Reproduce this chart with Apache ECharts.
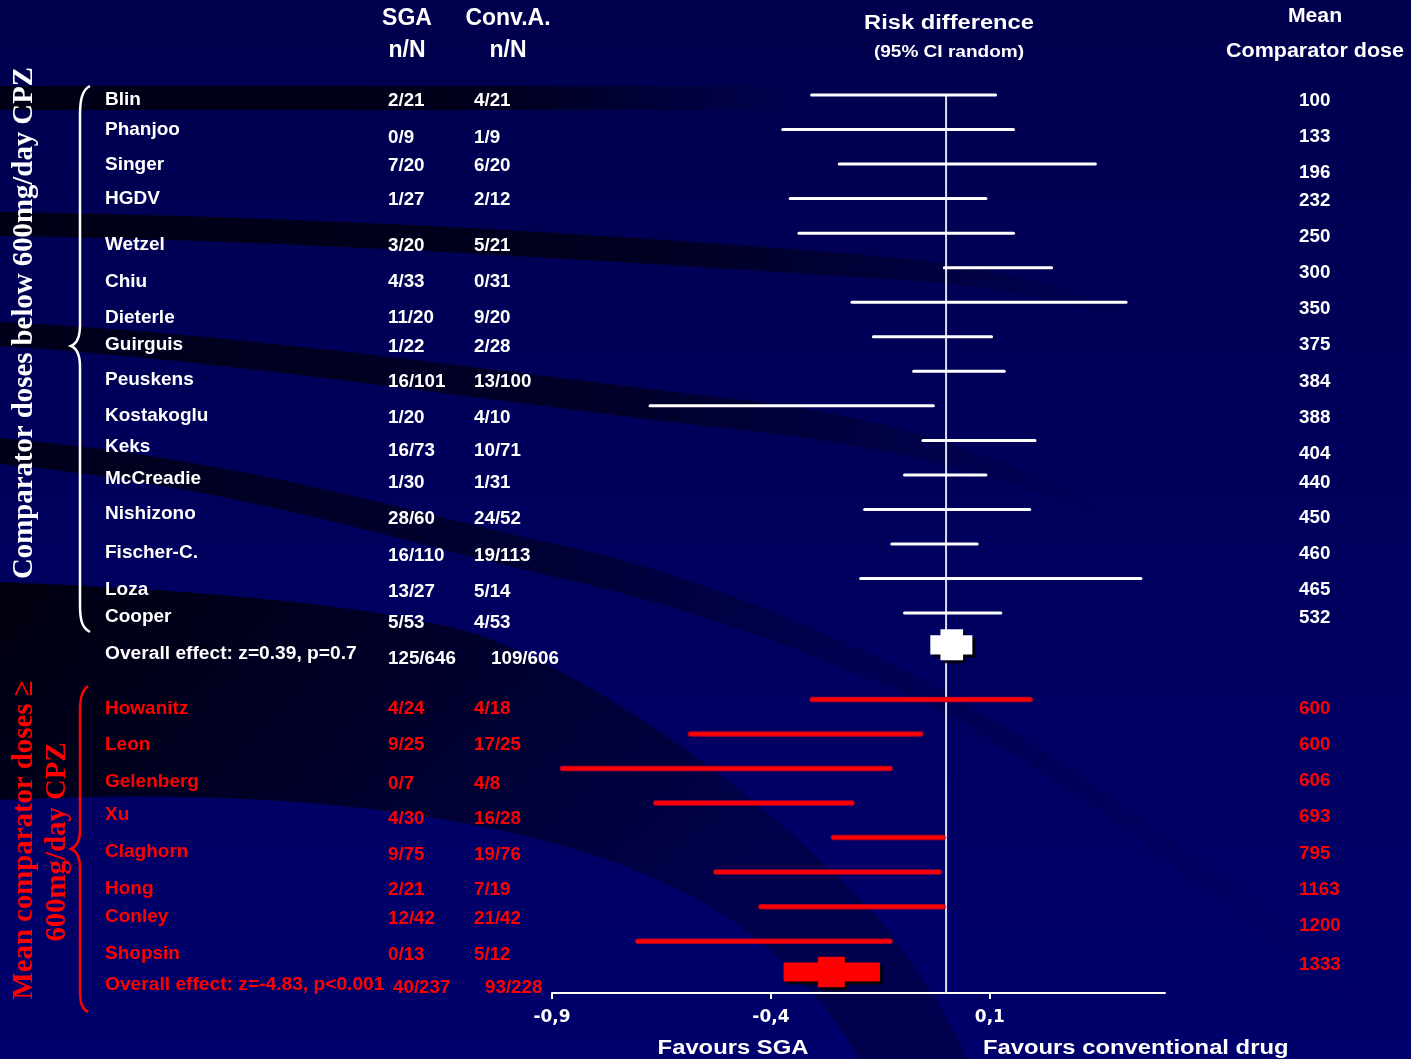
<!DOCTYPE html>
<html>
<head>
<meta charset="utf-8">
<title>Risk difference forest plot</title>
<script src="https://cdn.jsdelivr.net/npm/echarts@6.0.0/dist/echarts.min.js"></script>
<style>
html, body { margin: 0; padding: 0; background: #00005a; }
#chart { width: 1411px; height: 1059px; }
</style>
</head>
<body>
<div id="chart"></div>
<script>
// ---- Studies with mean comparator dose below 600 mg/day CPZ ----
const lowStudies = ['Blin', 'Phanjoo', 'Singer', 'HGDV', 'Wetzel', 'Chiu', 'Dieterle', 'Guirguis',
  'Peuskens', 'Kostakoglu', 'Keks', 'McCreadie', 'Nishizono', 'Fischer-C.', 'Loza', 'Cooper'];
const lowSGA = ['2/21', '0/9', '7/20', '1/27', '3/20', '4/33', '11/20', '1/22',
  '16/101', '1/20', '16/73', '1/30', '28/60', '16/110', '13/27', '5/53'];
const lowConv = ['4/21', '1/9', '6/20', '2/12', '5/21', '0/31', '9/20', '2/28',
  '13/100', '4/10', '10/71', '1/31', '24/52', '19/113', '5/14', '4/53'];
const lowDose = [100, 133, 196, 232, 250, 300, 350, 375, 384, 388, 404, 440, 450, 460, 465, 532];
const lowLower = [-0.307, -0.373, -0.244, -0.356, -0.336, -0.004, -0.215, -0.166,
  -0.074, -0.676, -0.053, -0.095, -0.186, -0.124, -0.195, -0.095];
const lowUpper = [0.113, 0.154, 0.341, 0.091, 0.154, 0.241, 0.411, 0.104,
  0.133, -0.029, 0.203, 0.091, 0.191, 0.071, 0.445, 0.125];
const lowRows = [0, 1, 2, 3, 4, 5, 6, 7, 8, 9, 10, 11, 12, 13, 14, 15];

// ---- Studies with mean comparator dose of 600 mg/day CPZ or more ----
const highStudies = ['Howanitz', 'Leon', 'Gelenberg', 'Xu', 'Claghorn', 'Hong', 'Conley', 'Shopsin'];
const highSGA = ['4/24', '9/25', '0/7', '4/30', '9/75', '2/21', '12/42', '0/13'];
const highConv = ['4/18', '17/25', '4/8', '16/28', '19/76', '7/19', '21/42', '5/12'];
const highDose = [600, 600, 606, 693, 795, 1163, 1200, 1333];
const highLower = [-0.306, -0.584, -0.876, -0.663, -0.257, -0.526, -0.423, -0.704];
const highUpper = [0.192, -0.058, -0.128, -0.215, -0.007, -0.016, -0.007, -0.128];
const highRows = [17.5, 18.5, 19.5, 20.5, 21.5, 22.5, 23.5, 24.5];

// ---- Pooled (random effects) results: [below 600, 600 and above] ----
const overallLabels = ['Overall effect: z=0.39, p=0.7', 'Overall effect: z=-4.83, p<0.001'];
const overallSGA = ['125/646', '40/237'];
const overallConv = ['109/606', '93/228'];
const overallEst = [0.013, -0.262];
const overallLower = [-0.036, -0.371];
const overallUpper = [0.060, -0.151];
const overallRows = [15.92, 25.39];

// ---- Risk difference axis ----
const tickValues = [-0.9, -0.4, 0.1];
const axisMin = -0.9, axisMax = 0.5, rowMax = 26;

// ---- Text layout (pixel rows of the table columns) ----
const lowNameY = [98, 128, 163, 197, 243, 280, 316, 343, 378, 414, 445, 477, 512, 551, 588, 615];
const lowValY = [99, 136, 164, 198, 244, 280, 316, 345, 380, 416, 449, 481, 517, 554, 590, 621];
const lowDoseY = [99, 135, 171, 199, 235, 271, 307, 343, 380, 416, 452, 481, 516, 552, 588, 616];
const highNameY = [707, 743, 780, 813, 850, 887, 915, 952];
const highValY = [707, 743, 782, 817, 853, 888, 917, 953];
const highDoseY = [707, 743, 779, 815, 852, 888, 924, 963];
const colName = 105, colSGA = 388, colConv = 474, colDose = 1299;
const TEXT_DY = 2; // canvas 'middle' sits a little above the cap-height centre

const WHITE = '#ffffff', RED = '#ff0000';
const SANS = '"Liberation Sans", Arial, Helvetica, sans-serif';
const SERIF = '"Liberation Serif", "Times New Roman", serif';

const chart = echarts.init(document.getElementById('chart'), null, { renderer: 'canvas' });

function txt(str, x, y, size, color, o) {
  o = o || {};
  return {
    type: 'text', x: x, y: o.rot ? y : y + TEXT_DY, silent: true, z: 60,
    scaleX: o.sx || 1, rotation: o.rot || 0,
    style: {
      text: str, fill: color,
      font: 'bold ' + size + 'px ' + (o.family || SANS),
      textAlign: o.align || 'left', textVerticalAlign: 'middle'
    }
  };
}

// Dark swooshes of the slide background, drawn as filled paths
function band(d, stops, dir) {
  return {
    type: 'path', shape: { pathData: d },
    style: {
      fill: { type: 'linear', x: 0, y: 0, x2: dir ? dir[0] : 1, y2: dir ? dir[1] : 0,
        colorStops: stops.map(s => ({ offset: s[0], color: 'rgba(0,0,10,' + s[1] + ')' })) }
    }
  };
}
const swooshes = [
  band('M0,86 L800,86 L800,110 L0,110 Z', [[0, 0.85], [0.6, 0.75], [1, 0]]),
  band('M0,212 C300,216 620,234 900,258 C1000,268 1080,290 1150,322 L1150,330 C1080,302 1000,286 900,280 C620,262 300,240 0,236 Z',
    [[0, 0.85], [0.55, 0.7], [1, 0]]),
  band('M0,322 C250,334 500,372 760,402 C900,420 1020,460 1110,515 L1110,522 C1010,478 900,448 760,432 C500,404 250,362 0,346 Z',
    [[0, 0.8], [0.55, 0.6], [1, 0]]),
  band('M0,438 C250,460 420,515 560,545 C700,575 850,640 960,700 C1100,780 1260,900 1411,1030 L1411,1059 C1260,925 1100,805 960,722 C840,660 700,610 560,578 C420,548 250,488 0,464 Z',
    [[0, 0.8], [0.38, 0.5], [0.6, 0.18], [1, 0.0]]),
  band('M0,582 C200,590 380,605 480,635 C600,680 760,790 880,920 C920,970 950,1020 968,1059 L860,1059 C800,960 720,890 560,845 C400,800 200,790 0,800 Z',
    [[0, 0.95], [0.4, 0.7], [1, 0.3]], [0.6, 1])
];

// Braces grouping the two dose strata
const braces = [
  { type: 'path', shape: { pathData: 'M90,86 C82,90 80,100 80,115 L80,325 C80,338 76,344 71,346 C76,348 80,354 80,367 L80,605 C80,620 82,628 90,632' },
    style: { fill: 'none', stroke: WHITE, lineWidth: 2.5 } },
  { type: 'path', shape: { pathData: 'M88,686 C82,690 80,698 80,710 L80,830 C80,842 76,847 71,849 C76,851 80,856 80,868 L80,990 C80,1003 82,1009 88,1012' },
    style: { fill: 'none', stroke: RED, lineWidth: 2.5 } }
];

const graphics = [
  { type: 'rect', silent: true, z: -100, shape: { x: 0, y: 0, width: 1411, height: 1059 },
    style: { fill: { type: 'linear', x: 0, y: 0, x2: 0, y2: 1,
      colorStops: [{ offset: 0, color: '#00004e' }, { offset: 1, color: '#00006c' }] } } }
];

// Column headers and axis captions
graphics.push(
  txt('SGA', 407, 17, 23, WHITE, { align: 'center' }),
  txt('n/N', 407, 49, 23, WHITE, { align: 'center' }),
  txt('Conv.A.', 508, 17, 23, WHITE, { align: 'center' }),
  txt('n/N', 508, 49, 23, WHITE, { align: 'center' }),
  txt('Risk difference', 949, 21, 20, WHITE, { align: 'center', sx: 1.185 }),
  txt('(95% CI random)', 949, 50, 17, WHITE, { align: 'center', sx: 1.12 }),
  txt('Mean', 1315, 14, 20, WHITE, { align: 'center', sx: 1.06 }),
  txt('Comparator dose', 1315, 49, 20, WHITE, { align: 'center', sx: 1.075 }),
  txt('Favours SGA', 733, 1046, 20, WHITE, { align: 'center', sx: 1.19 }),
  txt('Favours conventional drug', 983, 1046, 20, WHITE, { sx: 1.19 })
);

// Table rows
lowStudies.forEach((s, i) => {
  graphics.push(txt(s, colName, lowNameY[i], 19, WHITE));
  graphics.push(txt(lowSGA[i], colSGA, lowValY[i], 18.8, WHITE));
  graphics.push(txt(lowConv[i], colConv, lowValY[i], 18.8, WHITE));
  graphics.push(txt(String(lowDose[i]), colDose, lowDoseY[i], 18.8, WHITE));
});
highStudies.forEach((s, i) => {
  graphics.push(txt(s, colName, highNameY[i], 19, RED));
  graphics.push(txt(highSGA[i], colSGA, highValY[i], 18.8, RED));
  graphics.push(txt(highConv[i], colConv, highValY[i], 18.8, RED));
  graphics.push(txt(String(highDose[i]), colDose, highDoseY[i], 18.8, RED));
});
graphics.push(
  txt(overallLabels[0], colName, 652, 19.2, WHITE),
  txt(overallSGA[0], colSGA, 657, 18.8, WHITE),
  txt(overallConv[0], 491, 657, 18.8, WHITE),
  txt(overallLabels[1], colName, 983, 19.2, RED),
  txt(overallSGA[1], 393, 986, 18.8, RED),
  txt(overallConv[1], 485, 986, 18.8, RED)
);

// Rotated stratum titles
graphics.push(
  txt('Comparator doses below 600mg/day CPZ', 25, 323, 28.8, WHITE, { align: 'center', rot: Math.PI / 2, family: SERIF }),
  txt('Mean comparator doses \u2265', 25, 840, 28.8, RED, { align: 'center', rot: Math.PI / 2, family: SERIF }),
  txt('600mg/day CPZ', 58, 842, 28.8, RED, { align: 'center', rot: Math.PI / 2, family: SERIF })
);

// Confidence interval segments
function ciRender(color, edge, width) {
  return function (params, api) {
    const a = api.coord([api.value(0), api.value(2)]);
    const b = api.coord([api.value(1), api.value(2)]);
    const shape = { x1: a[0], y1: a[1], x2: b[0], y2: b[1] };
    const children = [];
    if (edge) children.push({ type: 'line', shape: shape, style: { stroke: edge, lineWidth: width + 2, lineCap: 'round' } });
    children.push({ type: 'line', shape: shape, style: { stroke: color, lineWidth: width, lineCap: 'round' } });
    return { type: 'group', children: children };
  };
}

// Pooled estimate: wide bar spanning the CI with a taller block at the estimate
function pooledRender(color, hh, nw, nh) {
  return function (params, api) {
    const row = api.value(3);
    const c = api.coord([api.value(0), row]);
    const l = api.coord([api.value(1), row])[0];
    const u = api.coord([api.value(2), row])[0];
    const cx = c[0], cy = c[1], a = nw / 2, b = nh / 2;
    const pts = [[l, cy - hh], [cx - a, cy - hh], [cx - a, cy - b], [cx + a, cy - b], [cx + a, cy - hh],
      [u, cy - hh], [u, cy + hh], [cx + a, cy + hh], [cx + a, cy + b], [cx - a, cy + b], [cx - a, cy + hh], [l, cy + hh]];
    return {
      type: 'polygon', shape: { points: pts },
      style: { fill: color, shadowColor: 'rgba(0,0,8,0.9)', shadowOffsetX: 3, shadowOffsetY: 3, shadowBlur: 0 }
    };
  };
}

const option = {
  animation: false,
  backgroundColor: '#00005a',
  grid: { left: 552, right: 246, top: 95, bottom: 66, containLabel: false },
  xAxis: {
    type: 'value', min: axisMin, max: axisMax, interval: 0.5, position: 'bottom',
    axisLine: { show: true, onZero: false, lineStyle: { color: WHITE, width: 2 } },
    axisTick: { show: true, customValues: tickValues, length: 6, lineStyle: { color: WHITE, width: 2 } },
    axisLabel: {
      customValues: tickValues, color: WHITE, fontWeight: 'bold', fontSize: 17,
      fontFamily: '"DejaVu Sans", sans-serif', margin: 16,
      formatter: v => v.toFixed(1).replace('.', ',')
    },
    splitLine: { show: false }
  },
  yAxis: { type: 'value', min: 0, max: rowMax, inverse: true, show: false },
  graphic: { elements: graphics },
  series: [
    {
      type: 'custom', silent: true, z: 0, clip: false,
      renderItem: () => ({ type: 'group', children: swooshes }),
      data: [[0, 0]]
    },
    {
      type: 'custom', silent: true, z: 5, clip: false,
      renderItem: () => ({ type: 'group', children: braces }),
      data: [[0, 0]]
    },
    {
      type: 'line', silent: true, symbol: 'none', z: 1,
      data: [[0, 0], [0, rowMax]],
      lineStyle: { color: '#dcdcec', width: 2 }
    },
    {
      type: 'custom', silent: true, z: 3, renderItem: ciRender(WHITE, null, 3),
      encode: { x: [0, 1], y: 2 },
      data: lowLower.map((v, i) => [v, lowUpper[i], lowRows[i]])
    },
    {
      type: 'custom', silent: true, z: 3, renderItem: ciRender(RED, '#b0002a', 3.5),
      encode: { x: [0, 1], y: 2 },
      data: highLower.map((v, i) => [v, highUpper[i], highRows[i]])
    },
    {
      type: 'custom', silent: true, z: 4, renderItem: pooledRender(WHITE, 9.7, 22.6, 31),
      encode: { x: [0, 1, 2], y: 3 },
      data: [[overallEst[0], overallLower[0], overallUpper[0], overallRows[0]]]
    },
    {
      type: 'custom', silent: true, z: 4, renderItem: pooledRender(RED, 9.5, 27, 30.5),
      encode: { x: [0, 1, 2], y: 3 },
      data: [[overallEst[1], overallLower[1], overallUpper[1], overallRows[1]]]
    }
  ]
};
chart.setOption(option);
</script>
</body>
</html>
